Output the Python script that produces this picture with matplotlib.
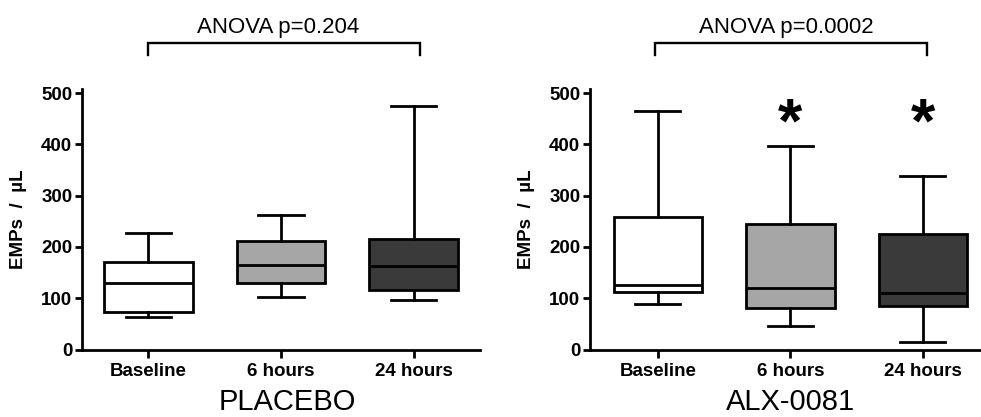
import matplotlib
matplotlib.use("Agg")
import matplotlib.pyplot as plt

plt.rcParams['font.family'] = ['Liberation Sans', 'DejaVu Sans']

categories = ['Baseline', '6 hours', '24 hours']
box_colors = ['#ffffff', '#a6a6a6', '#3a3a3a']

placebo_whislo = [63, 103, 96]
placebo_q1 = [73, 129, 116]
placebo_med = [130, 165, 163]
placebo_q3 = [171, 212, 215]
placebo_whishi = [228, 262, 475]

alx_whislo = [89, 46, 15]
alx_q1 = [113, 80, 84]
alx_med = [126, 120, 111]
alx_q3 = [259, 244, 226]
alx_whishi = [465, 397, 339]

alx_significant = [False, True, True]
star_level = 405

panel_titles = ['PLACEBO', 'ALX-0081']
anova_texts = ['ANOVA p=0.204', 'ANOVA p=0.0002']
y_ticks = [0, 100, 200, 300, 400, 500]
y_label = 'EMPs  /  µL'

W, H = 981, 417
fig = plt.figure(figsize=(W / 100, H / 100), dpi=100)

y0_px, ytop_px = 349.5, 89.0
px_per_unit = (349.5 - 93.0) / 500.0
ymax = (y0_px - ytop_px) / px_per_unit

ax1 = fig.add_axes([82 / W, (H - y0_px) / H, (480 - 82) / W, (y0_px - ytop_px) / H])
ax2 = fig.add_axes([590 / W, (H - y0_px) / H, (W - 590) / W, (y0_px - ytop_px) / H])


def draw_panel(ax, lo, q1, med, q3, hi, xlim):
    stats = []
    for i in range(len(categories)):
        stats.append(dict(whislo=lo[i], q1=q1[i], med=med[i], q3=q3[i],
                          whishi=hi[i], fliers=[], label=categories[i]))
    bp = ax.bxp(stats, positions=range(len(categories)), widths=0.67,
                capwidths=0.34, patch_artist=True, showfliers=False,
                boxprops=dict(linewidth=2.0, edgecolor='black'),
                medianprops=dict(linewidth=2.0, color='black'),
                whiskerprops=dict(linewidth=2.0, color='black'),
                capprops=dict(linewidth=2.0, color='black'))
    for patch, c in zip(bp['boxes'], box_colors):
        patch.set_facecolor(c)
    ax.set_xlim(*xlim)
    ax.set_ylim(0, ymax)
    ax.set_yticks(y_ticks)
    ax.set_xticks(range(len(categories)))
    ax.set_xticklabels(categories)
    for s in ['top', 'right']:
        ax.spines[s].set_visible(False)
    for s in ['left', 'bottom']:
        ax.spines[s].set_linewidth(2.0)
    ax.tick_params(axis='both', width=2.0, labelsize=13.5, direction='out')
    ax.tick_params(axis='y', length=5, pad=2)
    ax.tick_params(axis='x', length=6, pad=4)
    for lab in ax.get_xticklabels() + ax.get_yticklabels():
        lab.set_fontweight('bold')
    ax.set_ylabel(y_label, fontsize=13.5, fontweight='bold', labelpad=10)


draw_panel(ax1, placebo_whislo, placebo_q1, placebo_med, placebo_q3,
           placebo_whishi, (-0.5, 2.5))
draw_panel(ax2, alx_whislo, alx_q1, alx_med, alx_q3, alx_whishi,
           (-0.513, 2.438))

for i, sig in enumerate(alx_significant):
    if sig:
        ax2.text(i, star_level, '*', ha='center', va='baseline',
                 fontsize=45, fontweight='bold', clip_on=False)

# ANOVA brackets
for ax, txt, (bx0, bx1), tx in [(ax1, anova_texts[0], (0.0, 2.05), 0.98),
                                (ax2, anova_texts[1], (-0.02, 2.03), 0.97)]:
    ax.plot([bx0, bx0, bx1, bx1], [574, 597, 597, 574], color='black',
            lw=1.7, clip_on=False, solid_joinstyle='miter')
    ax.text(tx, 616, txt, ha='center', va='baseline', fontsize=16,
            clip_on=False)

# panel titles
fig.text(287 / W, 1.0 / H, panel_titles[0], ha='center', va='bottom',
         fontsize=21)
fig.text(791 / W, 1.0 / H, panel_titles[1], ha='center', va='bottom',
         fontsize=21)

fig.savefig('out.png', dpi=100)
